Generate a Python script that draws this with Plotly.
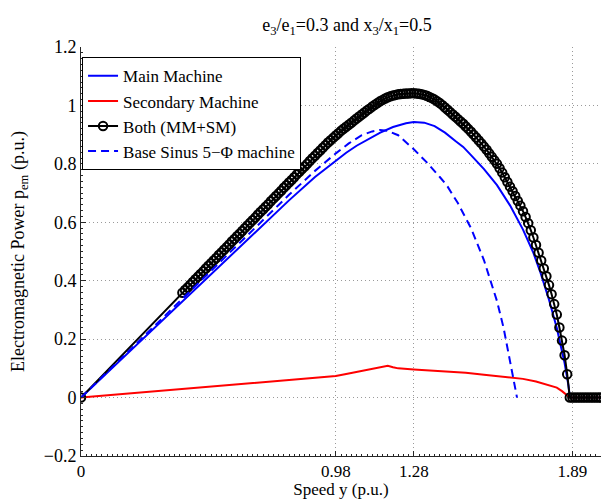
import plotly.graph_objects as go

# ---------------- data ----------------
mm_x = [0, 0.2, 0.4, 0.6, 0.8, 0.9, 0.98, 1.02, 1.06, 1.1, 1.151, 1.2, 1.25, 1.28,
        1.32, 1.36, 1.4, 1.44, 1.47, 1.5, 1.55, 1.6, 1.65, 1.7, 1.74, 1.767, 1.8,
        1.83, 1.86, 1.875, 1.88, 2.0]
mm_y = [0, 0.169, 0.338, 0.507, 0.675, 0.755, 0.812, 0.838, 0.862, 0.883, 0.907, 0.926,
        0.939, 0.943, 0.941, 0.929, 0.907, 0.878, 0.858, 0.83, 0.782, 0.727, 0.658,
        0.575, 0.495, 0.428, 0.335, 0.238, 0.118, 0.04, 0.0, 0.0]

sm_x = [0, 0.5, 0.98, 1.02, 1.06, 1.1, 1.15, 1.18, 1.2, 1.22, 1.28, 1.33, 1.35, 1.37,
        1.42, 1.48, 1.55, 1.6, 1.65, 1.7, 1.75, 1.8, 1.83, 1.85, 1.875, 1.88, 2.0]
sm_y = [0, 0.0375, 0.0735, 0.081, 0.088, 0.096, 0.106, 0.109, 0.104, 0.1, 0.096, 0.093,
        0.094, 0.092, 0.089, 0.085, 0.078, 0.073, 0.068, 0.064, 0.055, 0.043, 0.034,
        0.022, 0.005, 0.0, 0.0]

bs_x = [0, 0.2, 0.4, 0.6, 0.8, 0.9, 0.98, 1.03, 1.08, 1.12, 1.15, 1.18, 1.22, 1.28,
        1.33, 1.38, 1.408, 1.45, 1.5, 1.55, 1.574, 1.6, 1.625, 1.65, 1.677]
bs_y = [0, 0.174, 0.348, 0.522, 0.694, 0.776, 0.836, 0.87, 0.898, 0.911, 0.916, 0.913,
        0.898, 0.85, 0.805, 0.755, 0.725, 0.665, 0.58, 0.47, 0.405, 0.33, 0.24, 0.13, 0.0]

both_x = [0,
          0.39, 0.40, 0.41, 0.42, 0.43, 0.44, 0.45, 0.46, 0.47, 0.48,
          0.49, 0.50, 0.51, 0.52, 0.53, 0.54, 0.55, 0.56, 0.57, 0.58,
          0.59, 0.60, 0.61, 0.62, 0.63, 0.64, 0.65, 0.66, 0.67, 0.68,
          0.69, 0.70, 0.71, 0.72, 0.73, 0.74, 0.75, 0.76, 0.77, 0.78,
          0.79, 0.80, 0.81, 0.82, 0.83, 0.84, 0.85, 0.86, 0.87, 0.88,
          0.89, 0.90, 0.91, 0.92, 0.93, 0.94, 0.95, 0.96, 0.97, 0.98,
          0.99, 1.00, 1.01, 1.02, 1.03, 1.04, 1.05, 1.06, 1.07, 1.08,
          1.09, 1.10, 1.11, 1.12, 1.13, 1.14, 1.15, 1.16, 1.17, 1.18,
          1.19, 1.20, 1.21, 1.22, 1.23, 1.24, 1.25, 1.26, 1.27, 1.28,
          1.29, 1.30, 1.31, 1.32, 1.33, 1.34, 1.35, 1.36, 1.37, 1.38,
          1.39, 1.40, 1.41, 1.42, 1.43, 1.44, 1.45, 1.46, 1.47, 1.48,
          1.49, 1.50, 1.51, 1.52, 1.53, 1.54, 1.55, 1.56, 1.57, 1.58,
          1.59, 1.60, 1.61, 1.62, 1.63, 1.64, 1.65, 1.66, 1.67, 1.68,
          1.69, 1.70, 1.71, 1.72, 1.73, 1.74, 1.75, 1.76, 1.77, 1.78,
          1.79, 1.80, 1.81, 1.82, 1.83, 1.84, 1.85, 1.86, 1.87, 1.88,
          1.89, 1.90, 1.91, 1.92, 1.93, 1.94, 1.95, 1.96, 1.97, 1.98, 1.99, 2.00]
both_y = [0,
          0.359, 0.368, 0.377, 0.386, 0.396, 0.405, 0.414, 0.423, 0.432, 0.442,
          0.451, 0.460, 0.469, 0.478, 0.488, 0.497, 0.506, 0.515, 0.524, 0.534,
          0.543, 0.552, 0.561, 0.570, 0.580, 0.589, 0.598, 0.607, 0.616, 0.626,
          0.635, 0.644, 0.653, 0.662, 0.672, 0.681, 0.690, 0.699, 0.708, 0.718,
          0.727, 0.736, 0.745, 0.754, 0.764, 0.773, 0.782, 0.791, 0.800, 0.810,
          0.819, 0.828, 0.837, 0.846, 0.855, 0.864, 0.873, 0.881, 0.889, 0.897,
          0.905, 0.913, 0.920, 0.927, 0.934, 0.941, 0.948, 0.955, 0.962, 0.969,
          0.976, 0.983, 0.989, 0.996, 1.002, 1.008, 1.014, 1.019, 1.024, 1.028,
          1.031, 1.034, 1.036, 1.038, 1.039, 1.040, 1.041, 1.041, 1.042, 1.042,
          1.041, 1.040, 1.038, 1.036, 1.033, 1.029, 1.025, 1.020, 1.014, 1.008,
          1.001, 0.993, 0.985, 0.977, 0.969, 0.961, 0.953, 0.945, 0.937, 0.928,
          0.919, 0.910, 0.900, 0.890, 0.880, 0.870, 0.859, 0.848, 0.836, 0.824,
          0.812, 0.800, 0.785, 0.770, 0.754, 0.738, 0.722, 0.706, 0.690, 0.673,
          0.657, 0.638, 0.618, 0.597, 0.573, 0.548, 0.522, 0.496, 0.469, 0.442,
          0.415, 0.385, 0.354, 0.320, 0.284, 0.240, 0.195, 0.145, 0.080, 0.000,
          0, 0, 0, 0, 0, 0, 0, 0, 0, 0, 0, 0]

x_tickvals = [0, 0.98, 1.28, 1.89]
x_ticktext = ["0", "0.98", "1.28", "1.89"]
y_tickvals = [-0.2, 0, 0.2, 0.4, 0.6, 0.8, 1.0, 1.2]
y_ticktext = ["\u22120.2", "0", "0.2", "0.4", "0.6", "0.8", "1", "1.2"]

names = ["Main Machine", "Secondary Machine", "Both (MM+SM)",
         "Base Sinus 5\u2212\u03a6 machine"]

# ---------------- figure ----------------
FONT = "Liberation Serif"
fig = go.Figure()
fig.add_trace(go.Scatter(x=mm_x, y=mm_y, mode="lines", name=names[0],
                         line=dict(color="#0000ff", width=2)))
fig.add_trace(go.Scatter(x=sm_x, y=sm_y, mode="lines", name=names[1],
                         line=dict(color="#ff0000", width=2)))
fig.add_trace(go.Scatter(x=both_x, y=both_y, mode="lines+markers", name=names[2],
                         line=dict(color="black", width=2),
                         marker=dict(symbol="circle-open", size=8.5, color="black",
                                     line=dict(width=2, color="black"))))
fig.add_trace(go.Scatter(x=bs_x, y=bs_y, mode="lines", name=names[3],
                         line=dict(color="#0000ff", width=2, dash="8px,5px")))

axis_common = dict(
    showline=True, linecolor="#262626", linewidth=1, mirror=False,
    ticks="inside", ticklen=5, tickcolor="#262626", tickwidth=1,
    showgrid=True, gridcolor="#9a9a9a", gridwidth=1, griddash="1px,3px",
    zeroline=False, automargin=False,
)

fig.update_xaxes(range=[0, 2], tickmode="array", tickvals=x_tickvals, ticktext=x_ticktext,
                 tickfont=dict(family=FONT, size=17, color="black"),
                 title=dict(text="Speed y (p.u.)", font=dict(family=FONT, size=17),
                            standoff=6),
                 minor=dict(ticks="inside", ticklen=2, tickcolor="#262626",
                            tickmode="linear", tick0=0, dtick=0.02, showgrid=False),
                 **axis_common)
fig.update_yaxes(range=[-0.2, 1.2], tickmode="array", tickvals=y_tickvals, ticktext=y_ticktext,
                 tickfont=dict(family=FONT, size=18, color="black"),
                 title=dict(text="Electromagnetic Power p<sub>em</sub> (p.u.)",
                            font=dict(family=FONT, size=18), standoff=14),
                 minor=dict(ticks="inside", ticklen=2, tickcolor="#262626",
                            tickmode="linear", tick0=0, dtick=0.02, showgrid=False),
                 **axis_common)

fig.update_layout(
    width=614, height=499,
    margin=dict(l=81, r=13, t=47, b=43),
    paper_bgcolor="white", plot_bgcolor="white",
    font=dict(family=FONT, size=18, color="black"),
    title=dict(text="e<sub>3</sub>/e<sub>1</sub>=0.3 and x<sub>3</sub>/x<sub>1</sub>=0.5",
               x=0.565, xanchor="center", y=0.95, yanchor="middle",
               font=dict(family=FONT, size=18)),
    showlegend=True,
    legend=dict(x=0.002, y=0.975, xanchor="left", yanchor="top",
                bgcolor="white", bordercolor="black", borderwidth=1,
                font=dict(family=FONT, size=17), tracegroupgap=0),
)

fig.write_html("out.html", config={"displayModeBar": False},
               post_script="document.body.style.margin='0';")
